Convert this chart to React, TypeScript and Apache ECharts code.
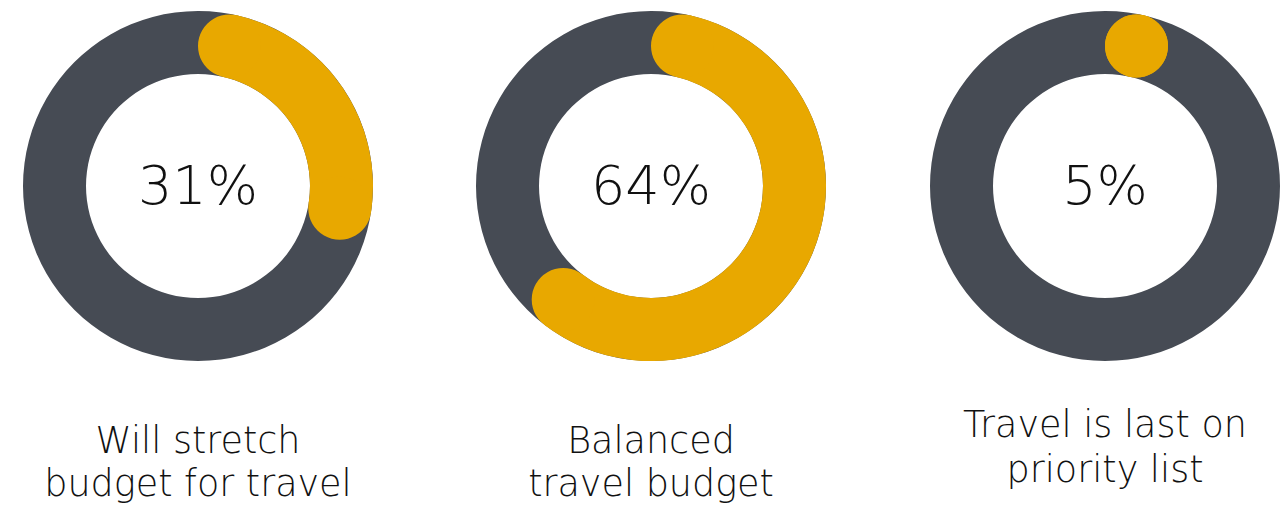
import React, { useEffect, useRef } from "react";
import * as echarts from "echarts";

// ---- data ----
const categories: string[] = [
  "Will stretch\nbudget for travel",
  "Balanced\ntravel budget",
  "Travel is last on\npriority list",
];
const values: number[] = [31, 64, 5];
const percentLabels: string[] = ["31%", "64%", "5%"];

// ---- layout / style ----
const CENTERS: [number, number][] = [
  [198, 186],
  [651, 186],
  [1105, 186],
];
const R_INNER = 112;
const R_OUTER = 175;
const LABEL_TOPS = [419, 419, 402];
const LABEL_LINE_HEIGHTS = [43, 43, 45];
const GRAY = "#464B54";
const YELLOW = "#E8A800";
const FONT = "'DejaVu Sans', 'Noto Sans', sans-serif";

const renderItem = (params: any, api: any) => {
  const cs = params.coordSys;
  const cx = cs.cx;
  const cy = cs.cy;
  const r = cs.r;
  const r0 = cs.r0;
  const dr = (r - r0) / 2;
  const rc = r0 + dr;
  const capPct = (Math.asin(dr / rc) / (2 * Math.PI)) * 100;
  const v = api.value(1);
  const a0 = capPct;
  const a1 = Math.max(capPct, v - capPct);
  const p0 = api.coord([0.5, a0]);
  const p1 = api.coord([0.5, a1]);
  let ang0 = Math.atan2(p0[1] - cy, p0[0] - cx);
  let ang1 = Math.atan2(p1[1] - cy, p1[0] - cx);
  while (ang1 < ang0) ang1 += Math.PI * 2;
  const children: any[] = [
    { type: "ring", shape: { cx, cy, r, r0 }, style: { fill: GRAY } },
  ];
  if (a1 > a0) {
    children.push({
      type: "sector",
      shape: { cx, cy, r0, r, startAngle: ang0, endAngle: ang1, clockwise: true },
      style: { fill: YELLOW },
    });
  }
  children.push({ type: "circle", shape: { cx: p0[0], cy: p0[1], r: dr }, style: { fill: YELLOW } });
  children.push({ type: "circle", shape: { cx: p1[0], cy: p1[1], r: dr }, style: { fill: YELLOW } });
  return { type: "group", children };
};

export default function App() {
  const ref = useRef<HTMLDivElement>(null);
  useEffect(() => {
    if (!ref.current) return;
    const chart = echarts.init(ref.current, undefined, { renderer: "svg" });
    const graphics: any[] = [];
    values.forEach((_, i) => {
      graphics.push({
        type: "text",
        x: CENTERS[i][0],
        y: CENTERS[i][1] - 1,
        style: {
          text: percentLabels[i],
          font: `200 54px ${FONT}`,
          fill: "#111111",
          textAlign: "center",
          textVerticalAlign: "middle",
        },
      });
      graphics.push({
        type: "text",
        x: CENTERS[i][0],
        y: LABEL_TOPS[i],
        style: {
          text: categories[i],
          font: `200 36.5px ${FONT}`,
          lineHeight: LABEL_LINE_HEIGHTS[i],
          fill: "#111111",
          textAlign: "center",
          textVerticalAlign: "top",
        },
      });
    });
    chart.setOption({
      animation: false,
      backgroundColor: "#ffffff",
      polar: CENTERS.map((c) => ({ center: c, radius: [R_INNER, R_OUTER] })),
      angleAxis: CENTERS.map((_, i) => ({
        polarIndex: i,
        type: "value",
        min: 0,
        max: 100,
        startAngle: 90,
        clockwise: true,
        show: false,
      })),
      radiusAxis: CENTERS.map((_, i) => ({
        polarIndex: i,
        type: "value",
        min: 0,
        max: 1,
        show: false,
      })),
      series: values.map((v, i) => ({
        type: "custom",
        name: categories[i],
        coordinateSystem: "polar",
        polarIndex: i,
        renderItem,
        data: [[0.5, v]],
      })),
      graphic: graphics,
    });
    return () => chart.dispose();
  }, []);
  return (
    <div
      ref={ref}
      style={{ position: "fixed", left: 0, top: 0, width: 1281, height: 506 }}
    />
  );
}
